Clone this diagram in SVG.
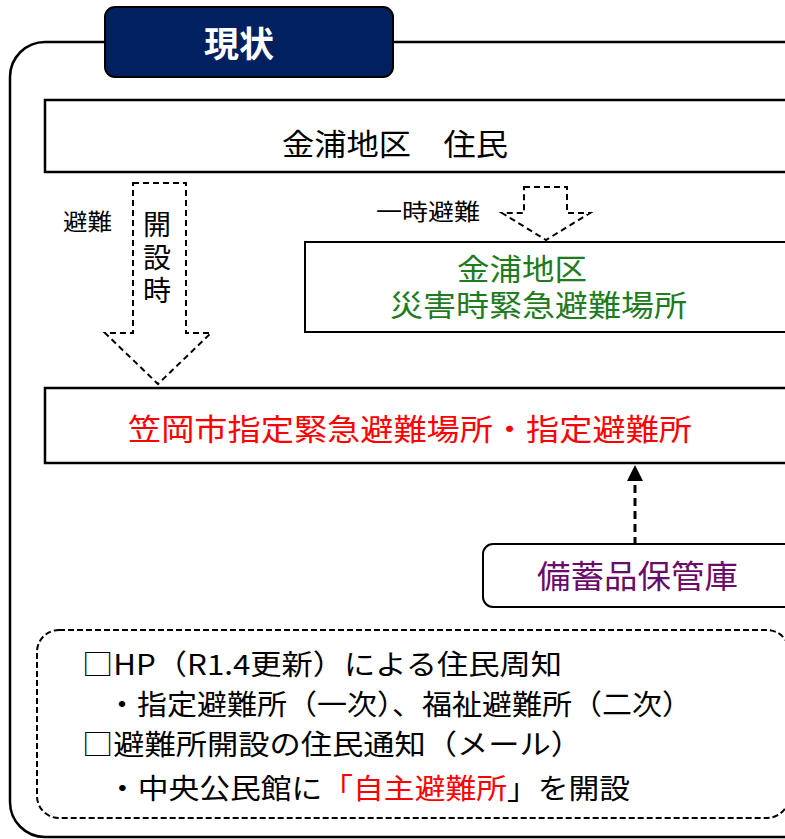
<svg xmlns="http://www.w3.org/2000/svg" width="785" height="839" viewBox="0 0 785 839">
<style>
text{font-family:"Noto Sans CJK JP","Noto Sans",sans-serif;}
.box{fill:#fff;stroke:#000;stroke-width:2.5;}
.t{font-size:30px;fill:#000;}
.g{font-size:30px;fill:#1e7b1e;}
.r{font-size:30px;fill:#ff0000;}
.p{font-size:32px;fill:#6a0a6a;}
.s{font-size:28px;fill:#000;}
.darr{fill:#fff;stroke:#000;stroke-width:2;stroke-dasharray:6 4;stroke-linejoin:miter;}
</style>
<rect x="0" y="0" width="785" height="839" fill="#fff"/>
<g id="frame">
<rect x="10" y="42" width="900" height="795" rx="35" fill="none" stroke="#000" stroke-width="2.5"/>
</g>
<g id="title">
<rect x="105" y="7" width="288" height="70" rx="10" fill="#002060" stroke="#000" stroke-width="2"/>
<text x="239" y="57" text-anchor="middle" font-size="35" font-weight="bold" fill="#fff">現状</text>
</g>
<g id="residents">
<rect class="box" x="45" y="100" width="800" height="72"/>
<text class="t" x="282" y="155" textLength="226" lengthAdjust="spacingAndGlyphs">金浦地区　住民</text>
</g>
<g id="local-shelter">
<rect class="box" x="305" y="242" width="540" height="90" style="stroke-width:2"/>
<text class="g"><tspan x="457" y="280" textLength="130" lengthAdjust="spacingAndGlyphs">金浦地区</tspan><tspan x="390" y="316" textLength="297" lengthAdjust="spacingAndGlyphs">災害時緊急避難場所</tspan></text>
</g>
<g id="city-shelter">
<rect class="box" x="45" y="388" width="800" height="75"/>
<text class="r" x="128" y="440" textLength="564" lengthAdjust="spacingAndGlyphs">笠岡市指定緊急避難場所・指定避難所</text>
</g>
<g id="storage">
<rect class="box" x="483" y="544" width="360" height="63" rx="10" style="stroke-width:2"/>
<text class="p" x="537" y="588" textLength="201" lengthAdjust="spacingAndGlyphs">備蓄品保管庫</text>
</g>
<g id="connectors">
<polygon class="darr" points="133,183 186,183 186,333 211,333 158,384 105,333 133,333"/>
<polygon class="darr" points="524,187 567,187 567,213 590,213 546,240 502,213 524,213"/>
<line x1="635" y1="545" x2="635" y2="480" stroke="#000" stroke-width="3" stroke-dasharray="8 5"/>
<polygon points="635,465 643,481 627,481" fill="#000"/>
</g>
<g id="labels">
<text x="63" y="230" font-size="23" fill="#000" textLength="49" lengthAdjust="spacingAndGlyphs">避難</text>
<text x="157" y="210" font-size="28" fill="#000" writing-mode="tb" letter-spacing="5">開設時</text>
<text x="376" y="220" font-size="23" fill="#000" textLength="104" lengthAdjust="spacingAndGlyphs">一時避難</text>
</g>
<g id="notes">
<rect x="37" y="630" width="752" height="188" rx="22" fill="none" stroke="#000" stroke-width="2" stroke-dasharray="6 3"/>
<text class="s" x="82" y="675" textLength="480" lengthAdjust="spacingAndGlyphs">□HP（R1.4更新）による住民周知</text>
<text class="s" x="107" y="715" textLength="585" lengthAdjust="spacingAndGlyphs">・指定避難所（一次）、福祉避難所（二次）</text>
<text class="s" x="82" y="755" textLength="500" lengthAdjust="spacingAndGlyphs">□避難所開設の住民通知（メール）</text>
<text class="s" x="107" y="799" textLength="523" lengthAdjust="spacingAndGlyphs">・中央公民館に<tspan fill="#ff0000">「自主避難所</tspan>」を開設</text>
</g>
</svg>
